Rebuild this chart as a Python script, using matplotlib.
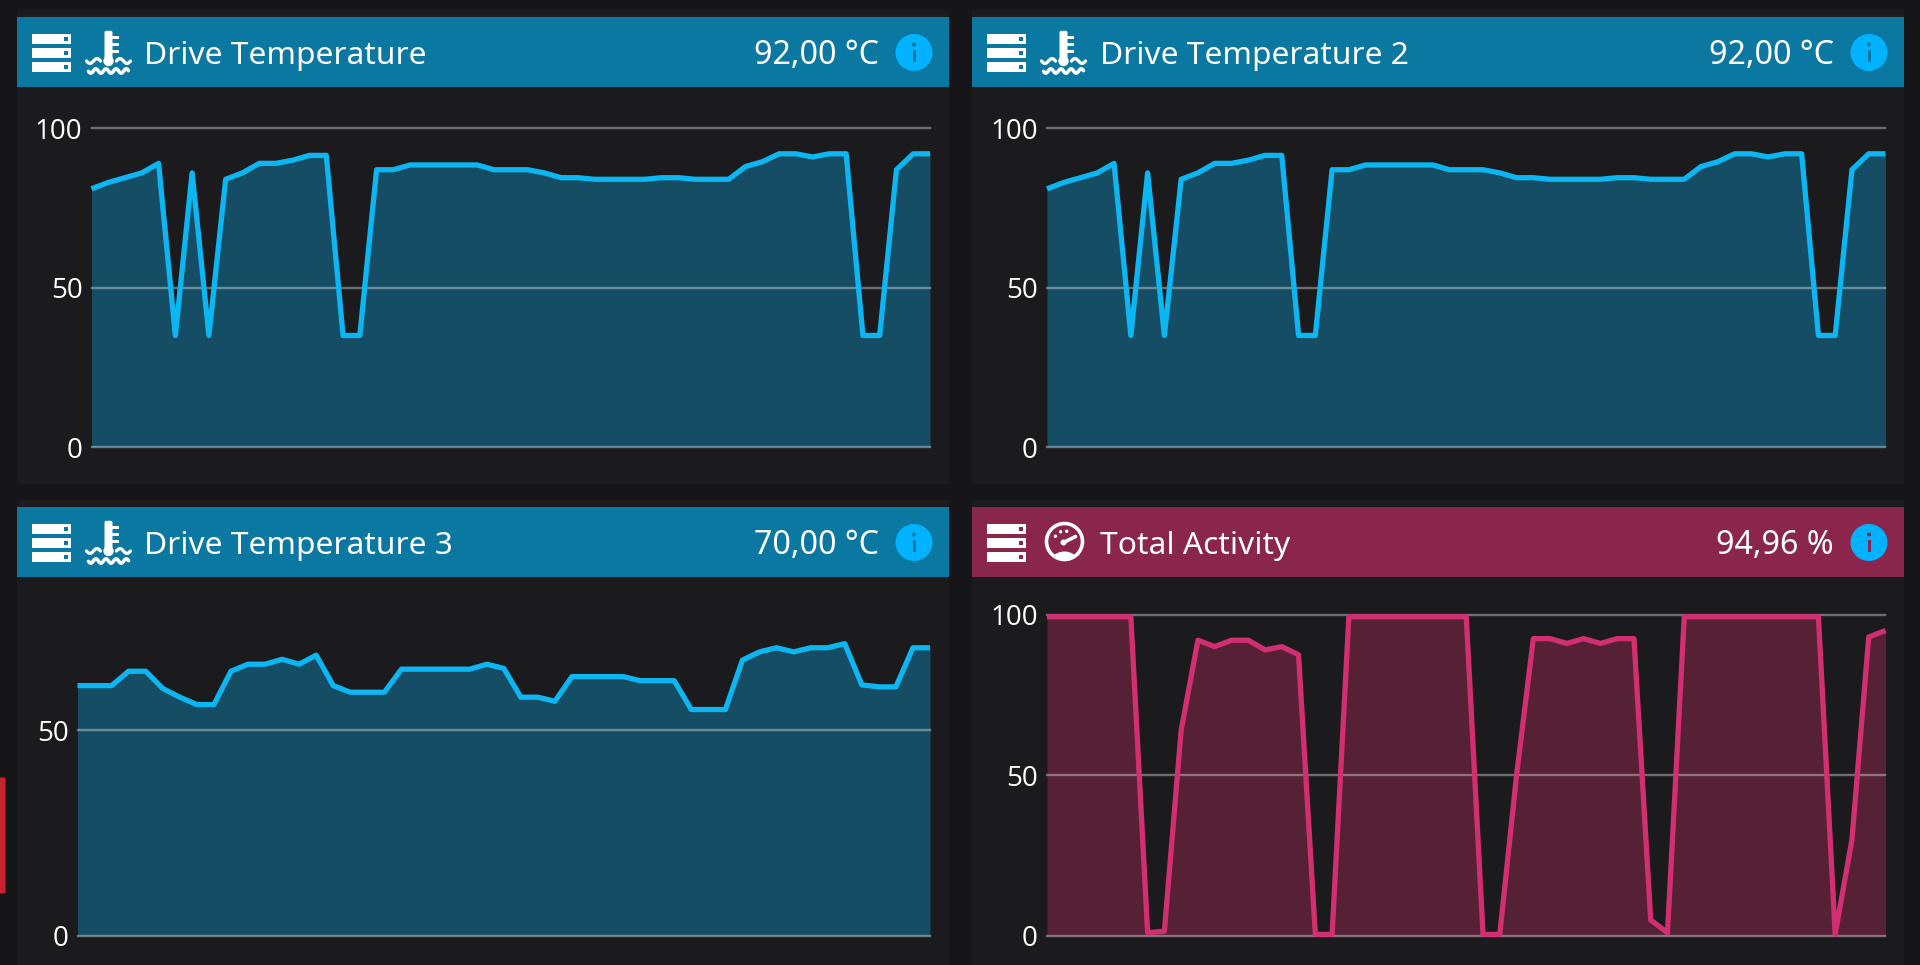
import numpy as np
import matplotlib
matplotlib.use("Agg")
import matplotlib.pyplot as plt
from matplotlib.patches import Rectangle, Circle, FancyBboxPatch

drive_temp_1 = [81, 83, 84.5, 86, 89, 35, 86, 35, 84, 86, 89, 89, 90, 91.5, 91.5, 35, 35, 87, 87, 88.5,
                88.5, 88.5, 88.5, 88.5, 87, 87, 87, 86, 84.5, 84.5, 84, 84, 84, 84, 84.5, 84.5, 84, 84, 84, 88,
                89.5, 92, 92, 91, 92, 92, 35, 35, 87, 92, 92]
drive_temp_2 = list(drive_temp_1)
drive_temp_3 = [60.8, 60.8, 60.8, 64.3, 64.3, 60.1, 58, 56.2, 56.2, 64.3, 66, 66, 67.2, 66, 68.2, 60.8, 59.2, 59.2,
                59.2, 64.8, 64.8, 64.8, 64.8, 64.8, 66, 65, 58, 58, 57, 63, 63, 63, 63, 62, 62, 62, 55, 55, 55, 67,
                69, 70, 69, 70, 70, 71, 61, 60.5, 60.5, 70, 70]
total_activity = [99.3, 99.3, 99.3, 99.3, 99.3, 99.3, 1, 1.5, 64, 92, 90, 92, 92, 89, 90, 87.5, 0.5, 0.5, 99.3, 99.3,
                  99.3, 99.3, 99.3, 99.3, 99.3, 99.3, 0.5, 0.5, 50, 92.5, 92.5, 91, 92.5, 91, 92.5, 92.5, 5, 1,
                  99.3, 99.3, 99.3, 99.3, 99.3, 99.3, 99.3, 99.3, 99.3, 0.5, 30, 93, 95]
titles = ["Drive Temperature", "Drive Temperature 2", "Drive Temperature 3", "Total Activity"]
readings = ["92,00 °C", "92,00 °C", "70,00 °C", "94,96 %"]
ticks_full = [0, 50, 100]
ticks_short = [0, 50]

W, H = 1920, 965
OUTER = "#161618"; PANEL = "#1b1b1d"
BLUE = dict(head="#0a78a0", line="#0cb6f2", fill="#154e64")
PINK = dict(head="#8a254c", line="#d22f70", fill="#562035")
HEAD_FONT = ["Noto Sans", "DejaVu Sans"]
TICK_FONT = ["Open Sans", "DejaVu Sans"]

fig = plt.figure(figsize=(W / 100, H / 100), dpi=100, facecolor=OUTER)
bg = fig.add_axes([0, 0, 1, 1], zorder=0)
bg.set_xlim(0, W); bg.set_ylim(H, 0); bg.axis("off")
fg = fig.add_axes([0, 0, 1, 1], zorder=5)
fg.set_xlim(0, W); fg.set_ylim(H, 0); fg.axis("off"); fg.patch.set_alpha(0)


def server_icon(x, y, hole):
    for dy in (0, 14.2, 28.4):
        fg.add_patch(Rectangle((x, y + dy), 39, 10.4, fc="white", ec="none"))
        fg.add_patch(Rectangle((x + 31.5, y + dy + 3), 4.5, 4.5, fc=hole, ec="none"))


def thermo_icon(cx, top):
    fg.add_patch(FancyBboxPatch((cx - 2.3, top + 1.5), 4.6, 26, boxstyle="round,pad=1.7", fc="white", ec="none"))
    fg.add_patch(Circle((cx, top + 30), 5.2, fc="white", ec="none"))
    for ty in (6, 13, 20):
        fg.add_patch(Rectangle((cx + 3, top + ty - 1.4), 7, 3, fc="white", ec="none"))
    t = np.linspace(0, 1, 40)
    for side in (-1, 1):
        xs = cx + side * (8 + 14 * t)
        fg.plot(xs, top + 30 + 2.4 * np.sin(t * 2 * np.pi + np.pi), color="white", lw=2.4,
                solid_capstyle="round")
    xs = cx - 20 + 40 * t
    fg.plot(xs, top + 40 + 2.2 * np.sin((xs - cx) * 0.62), color="white", lw=2.6, solid_capstyle="round")


def gauge_icon(cx, cy):
    ring = Circle((cx, cy), 18, fc="none", ec="white", lw=2.6)
    fg.add_patch(ring)
    outer = Circle((cx, cy), 18, transform=fg.transData)
    dome = Circle((cx, cy + 27), 17, fc="white", ec="none")
    fg.add_patch(dome)
    dome.set_clip_path(outer)
    for a in (150, 112, 78):
        r = np.radians(a)
        fg.add_patch(Circle((cx + 10.5 * np.cos(r), cy - 10.5 * np.sin(r)), 1.7, fc="white", ec="none"))
    fg.plot([cx - 1, cx + 11], [cy + 1, cy - 5], color="white", lw=2.6, solid_capstyle="round")
    fg.add_patch(Circle((cx - 1, cy + 1), 3, fc="white", ec="none"))


def panel(px0, px1, py0, py1, head_y0, head_y1, ax_x0, ax_x1, ax_y_top, ax_y0, ymax, values, yticks,
          style, title, reading, icon):
    bg.add_patch(Rectangle((px0, py0), px1 - px0, py1 - py0, fc=PANEL, ec="none"))
    fg.add_patch(Rectangle((px0, head_y0), px1 - px0, head_y1 - head_y0, fc=style["head"], ec="none"))
    server_icon(px0 + 15, head_y0 + 16.5, style["head"])
    cy = (head_y0 + head_y1) / 2 - 0.5
    if icon == "thermo":
        thermo_icon(px0 + 91.5, head_y0 + 14)
    else:
        gauge_icon(px0 + 92.5, cy)
    fg.text(px0 + 127.5, cy + 4.5, title, color="white", fontsize=22.8, va="center", ha="left", family=HEAD_FONT)
    fg.text(px1 - 70, cy + 4.5, reading, color="white", fontsize=23.2, va="center", ha="right", family=HEAD_FONT)
    cy_info = cy + 1
    fg.add_patch(Circle((px1 - 35, cy_info), 18.5, fc="#00b2ff", ec="none"))
    fg.add_patch(Rectangle((px1 - 36.3, cy_info - 3), 2.8, 12, fc=style["head"], ec="none"))
    fg.add_patch(Circle((px1 - 35, cy_info - 8), 2.0, fc=style["head"], ec="none"))

    ax = fig.add_axes([ax_x0 / W, 1 - ax_y0 / H, (ax_x1 - ax_x0) / W, (ax_y0 - ax_y_top) / H], zorder=2)
    ax.patch.set_alpha(0)
    x = np.arange(len(values))
    ax.set_xlim(0, len(values) - 1)
    ax.set_ylim(0, ymax)
    ax.fill_between(x, 0, values, color=style["fill"], lw=0, zorder=1)
    ax.plot(x, values, color=style["line"], lw=3.8, solid_joinstyle="round", solid_capstyle="butt",
            zorder=3, clip_on=False)
    for t in yticks:
        ax.axhline(t, color="white", alpha=0.36, lw=1.7, zorder=2, clip_on=False)
    for s in ax.spines.values():
        s.set_visible(False)
    ax.set_xticks([])
    ax.set_yticks(yticks)
    ax.set_yticklabels([str(t) for t in yticks], color="white", fontsize=20, family=TICK_FONT,
                       va="center_baseline")
    ax.tick_params(axis="y", length=0, pad=6.5)
    return ax


panel(17, 949, 10, 484, 17, 87, 91.5, 930, 128.3, 447, 100, drive_temp_1, ticks_full, BLUE,
      titles[0], readings[0], "thermo")
panel(972, 1904, 10, 484, 17, 87, 1047, 1885.5, 128.3, 447, 100, drive_temp_2, ticks_full, BLUE,
      titles[1], readings[1], "thermo")
panel(17, 949, 500, 965, 507, 577, 77.5, 930, 621, 936, 76.5, drive_temp_3, ticks_short, BLUE,
      titles[2], readings[2], "thermo")
panel(972, 1904, 500, 965, 507, 577, 1047, 1885.5, 614.5, 936, 100, total_activity, ticks_full, PINK,
      titles[3], readings[3], "gauge")

bg.add_patch(FancyBboxPatch((-6, 779), 10, 113, boxstyle="round,pad=1.5", fc="#c8232f", ec="none"))

fig.savefig("out.png", dpi=100, facecolor=OUTER)
